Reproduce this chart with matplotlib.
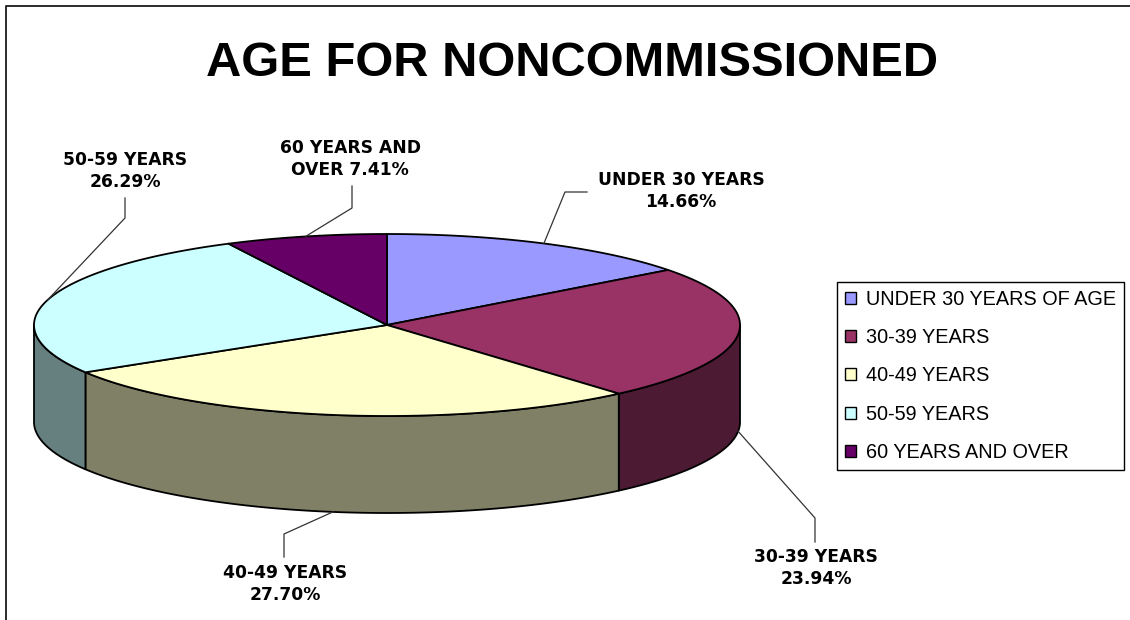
import numpy as np
import matplotlib
matplotlib.use("Agg")
import matplotlib.pyplot as plt
from matplotlib.patches import Polygon, Patch
from matplotlib.colors import to_rgb

# ---- data ----
categories = ["UNDER 30 YEARS OF AGE", "30-39 YEARS", "40-49 YEARS", "50-59 YEARS", "60 YEARS AND OVER"]
label_names = ["UNDER 30 YEARS", "30-39 YEARS", "40-49 YEARS", "50-59 YEARS", "60 YEARS AND"]
label_breaks = ["\n", "\n", "\n", "\n", "\nOVER "]
values = [14.66, 23.94, 27.70, 26.29, 7.41]
colors = ["#9999FF", "#993366", "#FFFFCC", "#CCFFFF", "#660066"]
title = "AGE FOR NONCOMMISSIONED"

# ---- layout ----
W, H = 1130, 620
cx, cy, a, b, depth = 387.0, 325.0, 353.0, 91.0, 97.0
# label centre positions and leader elbow/end points (pixels)
label_pos = [(681, 191), (816, 568), (285, 584), (125, 171), (350, 159)]
leader_pts = [[(565, 192), (587, 192)],
              [(815, 518), (815, 542)],
              [(284, 534), (284, 557)],
              [(125, 218), (125, 198)],
              [(352, 208), (352, 186)]]

fig = plt.figure(figsize=(W / 100, H / 100), dpi=100)
ax = fig.add_axes([0, 0, 1, 1])
ax.set_xlim(0, W)
ax.set_ylim(H, 0)
ax.axis("off")

# outer chart frame
ax.plot([6, 6, W], [H, 6, 6], color="#1a1a1a", lw=1.3, solid_capstyle="butt")

ax.text(572, 76.5, title, ha="center", va="baseline", fontsize=35.2,
        fontweight="bold", family="Liberation Sans")


def pt(t, dy=0.0):
    return cx + a * np.sin(t), cy - b * np.cos(t) + dy


total = float(sum(values))
bounds = np.concatenate([[0], np.cumsum(values)]) / total * 2 * np.pi
ec = "black"
lw = 1.3

# side walls (visible front half: t in [pi/2, 3pi/2])
for i in range(len(values)):
    s, e = bounds[i], bounds[i + 1]
    t0, t1 = max(s, np.pi / 2), min(e, 3 * np.pi / 2)
    if t1 <= t0:
        continue
    ts = np.linspace(t0, t1, 80)
    top = [pt(t) for t in ts]
    bot = [pt(t, depth) for t in ts[::-1]]
    side_col = tuple(0.5 * c for c in to_rgb(colors[i]))
    ax.add_patch(Polygon(top + bot, closed=True, facecolor=side_col,
                         edgecolor=ec, lw=lw, joinstyle="round", zorder=2))

# top faces
for i in range(len(values)):
    s, e = bounds[i], bounds[i + 1]
    ts = np.linspace(s, e, 120)
    poly = [(cx, cy)] + [pt(t) for t in ts]
    ax.add_patch(Polygon(poly, closed=True, facecolor=colors[i],
                         edgecolor=ec, lw=lw, joinstyle="round", zorder=3))

# data labels with leader lines
for i in range(len(values)):
    m = (bounds[i] + bounds[i + 1]) / 2
    front = np.pi / 2 < m < 3 * np.pi / 2
    start = pt(m, depth if front else 0.0)
    xs = [start[0]] + [p[0] for p in leader_pts[i]]
    ys = [start[1]] + [p[1] for p in leader_pts[i]]
    ax.plot(xs, ys, color="#333333", lw=0.9, zorder=4)
    txt = f"{label_names[i]}{label_breaks[i]}{values[i]:.2f}%"
    ax.text(label_pos[i][0], label_pos[i][1], txt, ha="center", va="center",
            multialignment="center", fontsize=12.3, fontweight="bold",
            family="DejaVu Sans", linespacing=1.3, color="black", zorder=5)

# legend
handles = [Patch(facecolor=c, edgecolor="black", lw=1.0) for c in colors]
leg = ax.legend(handles, categories, loc="upper left",
                bbox_to_anchor=(837 / W, 1 - 282 / H), bbox_transform=fig.transFigure,
                prop={"family": "Liberation Sans", "size": 14.3},
                frameon=True, fancybox=False, framealpha=1, edgecolor="black",
                borderaxespad=0, borderpad=0.38, labelspacing=0.98,
                handlelength=0.6, handleheight=0.55, handletextpad=0.5)
leg.get_frame().set_linewidth(1.0)

fig.savefig("out.png", dpi=100)
